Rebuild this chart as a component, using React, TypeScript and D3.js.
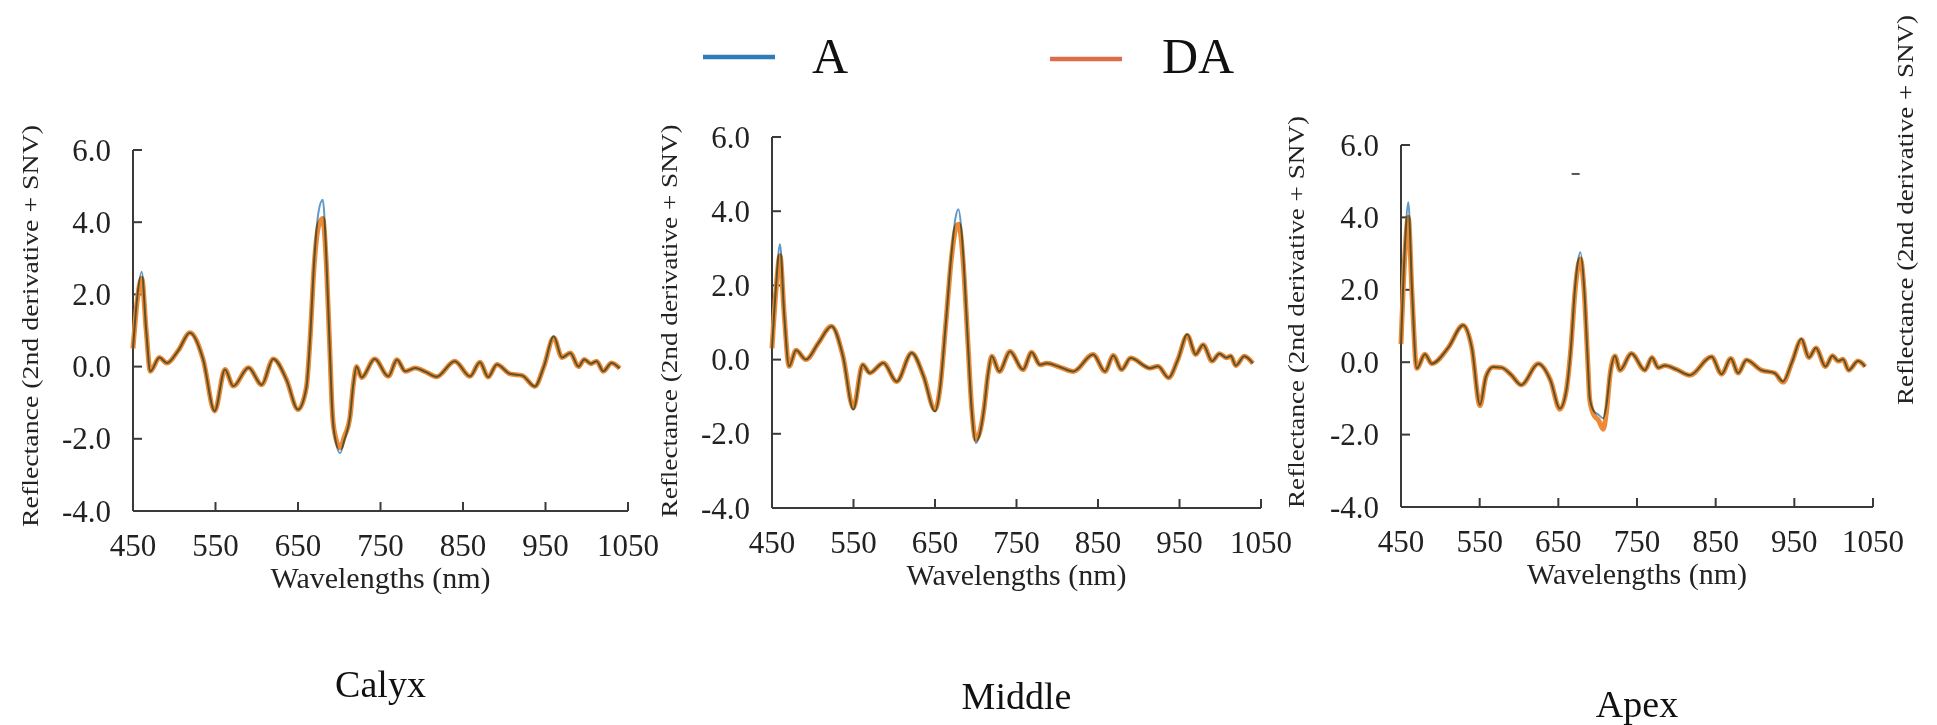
import React from "react";
import * as d3 from "d3";

// ---------- DATA ----------
const seriesNames = ["A", "DA"];
const panelNames = ["Calyx", "Middle", "Apex"];
const xTicks = [450, 550, 650, 750, 850, 950, 1050];
const yTicks = [-4, -2, 0, 2, 4, 6];
const yLabel = "Reflectance (2nd derivative + SNV)";
const xLabel = "Wavelengths (nm)";

const calyxNm = [450, 455, 460.5, 466, 471, 482, 491, 505, 519, 535, 549, 561.5, 571.5, 590, 606, 620, 636, 650, 660, 665, 669, 675, 680, 684, 688, 692, 696, 701, 706, 713, 717, 721, 727, 743, 759.5, 770, 780, 792, 805, 818, 840, 858.5, 870.5, 880.5, 891, 907, 922, 937, 948, 960, 970, 980, 990, 997, 1005, 1012, 1020, 1030, 1040];
const calyxA = [0.5, 1.9, 2.63, 1.0, -0.13, 0.25, 0.1, 0.45, 0.94, 0.2, -1.23, -0.08, -0.54, -0.03, -0.5, 0.21, -0.36, -1.19, -0.6, 0.9, 2.7, 4.3, 4.62, 3.2, 0.8, -1.4, -2.1, -2.4, -2.05, -1.4, -0.5, 0.0, -0.3, 0.21, -0.27, 0.19, -0.13, -0.04, -0.15, -0.28, 0.15, -0.27, 0.12, -0.29, 0.06, -0.2, -0.25, -0.55, 0.0, 0.84, 0.25, 0.38, 0.0, 0.2, 0.08, 0.15, -0.13, 0.1, -0.05];
const calyxDA = [0.5, 1.8, 2.45, 1.0, -0.13, 0.25, 0.1, 0.45, 0.94, 0.2, -1.23, -0.08, -0.54, -0.03, -0.5, 0.21, -0.36, -1.19, -0.6, 0.9, 2.6, 3.9, 4.1, 3.0, 0.8, -1.4, -2.0, -2.25, -1.95, -1.4, -0.5, 0.0, -0.3, 0.21, -0.27, 0.19, -0.13, -0.04, -0.15, -0.28, 0.15, -0.27, 0.12, -0.29, 0.06, -0.2, -0.25, -0.55, 0.0, 0.8, 0.25, 0.38, 0.0, 0.2, 0.08, 0.15, -0.13, 0.1, -0.05];

const middleNm = [450, 455, 459.8, 465, 471, 479.5, 491.7, 507, 523, 537, 549.8, 561.3, 570, 586.6, 603, 621.4, 636, 650, 656, 663, 670, 675, 678.7, 682, 685, 690, 695, 700, 705, 710, 715, 719.6, 729, 742, 758, 768.6, 778.8, 787, 803, 819.7, 844, 858.6, 868.8, 879, 890, 913.8, 923.6, 936.6, 948, 959.6, 969.8, 979, 990, 999, 1007.6, 1013, 1019, 1029.5, 1040];
const middleA = [0.3, 2.0, 3.11, 1.2, -0.18, 0.25, 0.0, 0.45, 0.9, 0.1, -1.35, -0.14, -0.36, -0.09, -0.59, 0.18, -0.45, -1.4, -0.8, 0.9, 2.8, 3.8, 4.05, 3.6, 2.7, 0.6, -1.35, -2.25, -2.0, -1.35, -0.4, 0.09, -0.32, 0.22, -0.27, 0.2, -0.14, -0.1, -0.2, -0.32, 0.14, -0.32, 0.11, -0.27, 0.04, -0.23, -0.18, -0.49, 0.0, 0.68, 0.14, 0.4, -0.04, 0.16, 0.05, 0.1, -0.16, 0.09, -0.1];
const middleDA = [0.3, 1.9, 2.8, 1.2, -0.18, 0.25, 0.0, 0.45, 0.9, 0.1, -1.3, -0.14, -0.36, -0.09, -0.59, 0.18, -0.45, -1.35, -0.8, 0.9, 2.7, 3.5, 3.65, 3.3, 2.5, 0.6, -1.3, -2.15, -1.95, -1.35, -0.4, 0.09, -0.32, 0.22, -0.27, 0.2, -0.14, -0.1, -0.2, -0.32, 0.14, -0.32, 0.11, -0.27, 0.04, -0.23, -0.18, -0.49, 0.0, 0.65, 0.14, 0.4, -0.04, 0.16, 0.05, 0.1, -0.16, 0.09, -0.1];

const apexNm = [450, 455, 459.3, 464, 470, 480.5, 489, 510, 529, 540, 550.4, 558, 567, 578, 590, 603, 624.5, 640, 652, 660, 666, 671, 675, 678, 683, 687, 690, 695, 701, 707, 711, 716, 722, 728.3, 743, 760, 769, 777, 785.5, 800, 817, 844.8, 857.5, 869.3, 878.6, 889, 908, 925, 935.6, 947, 959, 968.5, 977.5, 989.6, 998.4, 1006, 1012, 1019, 1031, 1040];
const apexA = [0.5, 3.2, 4.42, 2.0, -0.17, 0.22, -0.04, 0.4, 1.02, 0.4, -1.18, -0.4, -0.13, -0.15, -0.35, -0.63, -0.04, -0.5, -1.28, -0.8, 0.4, 2.0, 2.8, 3.04, 2.0, 0.2, -1.0, -1.35, -1.45, -1.55, -1.2, -0.3, 0.17, -0.22, 0.24, -0.22, 0.13, -0.15, -0.09, -0.2, -0.36, 0.15, -0.33, 0.1, -0.3, 0.06, -0.22, -0.3, -0.53, 0.0, 0.65, 0.13, 0.39, -0.12, 0.18, 0.03, 0.08, -0.22, 0.03, -0.12];
const apexDA = [0.5, 3.0, 4.0, 1.9, -0.17, 0.22, -0.04, 0.4, 1.02, 0.4, -1.2, -0.4, -0.13, -0.15, -0.35, -0.63, -0.04, -0.5, -1.3, -0.8, 0.4, 1.9, 2.65, 2.85, 1.9, 0.2, -1.05, -1.45, -1.6, -1.85, -1.4, -0.3, 0.17, -0.22, 0.24, -0.22, 0.13, -0.15, -0.09, -0.2, -0.36, 0.15, -0.33, 0.1, -0.3, 0.06, -0.22, -0.3, -0.55, 0.0, 0.62, 0.13, 0.39, -0.12, 0.18, 0.03, 0.08, -0.22, 0.03, -0.12];

const stray = { nm: 672, v: 5.2 }; // small stray dash in the Apex panel

// ---------- LAYOUT / STYLE ----------
const W = 1937;
const H = 725;
const FONT = "'Liberation Serif', 'Times New Roman', serif";
const AXIS = "#3a3a3a";
const COL_A = "#2E75B6";
const COL_DA = "#EE8A35";
const LEG_A = "#2E7DB8";
const LEG_DA = "#DD6C48";

const layouts = [
  { x0: 133, x1: 628, yTop: 150, yBot: 511, labX: 30, labY: 326, labLen: 402, titleY: 697, rightLab: false },
  { x0: 772, x1: 1261, yTop: 137, yBot: 508, labX: 669, labY: 321, labLen: 393, titleY: 709, rightLab: false },
  { x0: 1401, x1: 1873, yTop: 145, yBot: 507, labX: 1296, labY: 312, labLen: 392, titleY: 717, rightLab: true },
];

const panelData = [
  { nm: calyxNm, a: calyxA, da: calyxDA },
  { nm: middleNm, a: middleA, da: middleDA },
  { nm: apexNm, a: apexA, da: apexDA },
];

function Panel({ idx }: { idx: number }) {
  const L = layouts[idx];
  const D = panelData[idx];
  const x = d3.scaleLinear().domain([450, 1050]).range([L.x0, L.x1]);
  const y = d3.scaleLinear().domain([-4, 6]).range([L.yBot, L.yTop]);
  const line = d3
    .line<number>()
    .x((_, i) => x(D.nm[i]))
    .y((v) => y(v))
    .curve(d3.curveMonotoneX);
  const cx = (L.x0 + L.x1) / 2;
  return (
    <g>
      {/* axes */}
      <line x1={L.x0} x2={L.x0} y1={y(6)} y2={y(-4)} stroke={AXIS} strokeWidth={2} />
      <line x1={L.x0} x2={x(1050)} y1={y(-4)} y2={y(-4)} stroke={AXIS} strokeWidth={2} />
      {yTicks.map((t) => (
        <g key={"y" + t}>
          {t > -4 && <line x1={L.x0} x2={L.x0 + 9} y1={y(t)} y2={y(t)} stroke={AXIS} strokeWidth={2} />}
          <text x={L.x0 - 22} y={y(t)} dy="0.34em" textAnchor="end" fontSize={31} fontFamily={FONT} fill="#222">
            {t.toFixed(1)}
          </text>
        </g>
      ))}
      {xTicks.map((t) => (
        <g key={"x" + t}>
          {t > 450 && <line x1={x(t)} x2={x(t)} y1={y(-4)} y2={y(-4) - 9} stroke={AXIS} strokeWidth={2} />}
          <text x={x(t)} y={y(-4) + 45} textAnchor="middle" fontSize={31} fontFamily={FONT} fill="#222">
            {t}
          </text>
        </g>
      ))}
      <text x={cx} y={y(-4) + 77} textAnchor="middle" fontSize={30} fontFamily={FONT} fill="#222">
        {xLabel}
      </text>
      <text
        transform={`translate(${L.labX},${L.labY}) rotate(-90)`}
        textAnchor="middle"
        dy="0.34em"
        fontSize={24}
        fontFamily={FONT}
        fill="#222"
        textLength={L.labLen}
        lengthAdjust="spacingAndGlyphs"
      >
        {yLabel}
      </text>
      {L.rightLab && (
        <text
          transform={`translate(1905,210) rotate(-90)`}
          textAnchor="middle"
          dy="0.34em"
          fontSize={24}
          fontFamily={FONT}
          fill="#222"
          textLength={390}
          lengthAdjust="spacingAndGlyphs"
        >
          {yLabel}
        </text>
      )}
      {L.rightLab && (
        <line x1={x(stray.nm) - 4} x2={x(stray.nm) + 4} y1={y(stray.v)} y2={y(stray.v)} stroke="#555" strokeWidth={2} />
      )}
      {/* series */}
      <path d={line(D.da) || ""} fill="none" stroke={COL_DA} strokeWidth={5} strokeLinejoin="round" />
      <path
        d={line(D.a) || ""}
        fill="none"
        stroke={COL_A}
        strokeWidth={2}
        strokeOpacity={0.75}
        strokeLinejoin="round"
        style={{ mixBlendMode: "multiply" }}
      />
      <text x={cx} y={L.titleY} textAnchor="middle" fontSize={38} fontFamily={FONT} fill="#111">
        {panelNames[idx]}
      </text>
    </g>
  );
}

export default function App() {
  const legend = [
    { name: seriesNames[0], x1: 703, x2: 775, ly: 57, tx: 812, color: LEG_A },
    { name: seriesNames[1], x1: 1050, x2: 1122, ly: 59, tx: 1162, color: LEG_DA },
  ];
  return (
    <svg
      width={W}
      height={H}
      viewBox={`0 0 ${W} ${H}`}
      style={{ position: "absolute", left: 0, top: 0, background: "#fff" }}
    >
      <rect x={0} y={0} width={W} height={H} fill="#fff" />
      {legend.map((l) => (
        <g key={l.name}>
          <line x1={l.x1} x2={l.x2} y1={l.ly} y2={l.ly} stroke={l.color} strokeWidth={4.5} />
          <text x={l.tx} y={73} fontSize={50} fontFamily={FONT} fill="#111">
            {l.name}
          </text>
        </g>
      ))}
      <g style={{ isolation: "isolate" }}>
        {[0, 1, 2].map((i) => (
          <Panel key={i} idx={i} />
        ))}
      </g>
    </svg>
  );
}
